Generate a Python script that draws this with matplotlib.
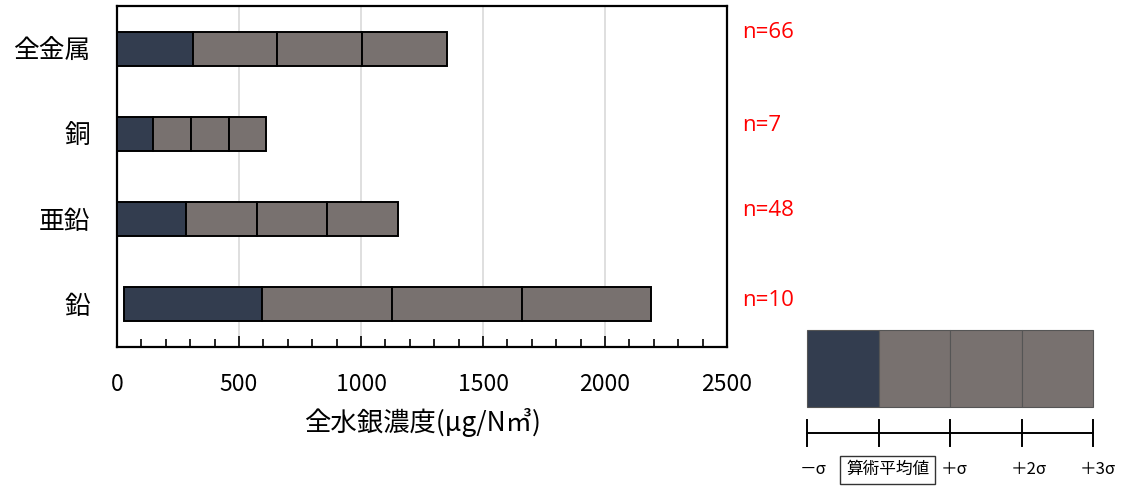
import matplotlib
matplotlib.use('Agg')
import matplotlib.pyplot as plt
from matplotlib.ticker import MultipleLocator
from matplotlib.patches import Rectangle

plt.rcParams['font.family'] = ['Noto Sans CJK JP', 'DejaVu Sans']

# data (µg/Nm3)
categories = ['全金属', '銅', '亜鉛', '鉛']
counts = ['n=66', 'n=7', 'n=48', 'n=10']
minus_sd = [0, 0, 0, 28]          # -σ (clipped at 0)
mean_val = [311, 148, 283, 594]   # 算術平均値
plus_1sd = [657, 302, 572, 1125]
plus_2sd = [1005, 458, 860, 1658]
plus_3sd = [1353, 609, 1150, 2188]

# legend schematic, in σ units
legend_edges = [-1, 0, 1, 2, 3]
legend_labels = ['－σ', '算術平均値', '＋σ', '＋2σ', '＋3σ']

DARK = '#333d4f'
GREY = '#78716f'

W, H = 1123, 490
fig = plt.figure(figsize=(W / 100, H / 100), dpi=100)
ax = fig.add_axes([117 / W, 1 - 347 / H, 610 / W, 341 / H])

ypos = list(range(len(categories)))
segments = [(minus_sd, mean_val, DARK), (mean_val, plus_1sd, GREY),
            (plus_1sd, plus_2sd, GREY), (plus_2sd, plus_3sd, GREY)]
for lo, hi, col in segments:
    widths = [h - l for l, h in zip(lo, hi)]
    ax.barh(ypos, widths, left=lo, height=0.4, color=col,
            edgecolor='black', linewidth=1.4, zorder=3)

ax.set_ylim(len(categories) - 0.5, -0.5)
ax.set_xlim(0, 2500)
ax.set_yticks(ypos)
ax.set_yticklabels(categories, fontsize=18.5)
ax.tick_params(axis='y', length=0, pad=19)

ax.xaxis.set_major_locator(MultipleLocator(500))
ax.xaxis.set_minor_locator(MultipleLocator(100))
ax.tick_params(axis='x', which='major', direction='in', length=8, width=1.2,
               labelsize=16.5, pad=19)
ax.tick_params(axis='x', which='minor', direction='in', length=6, width=1.2)
ax.grid(axis='x', which='major', color='#d9d9d9', linewidth=1.2, zorder=0)
ax.set_xlabel('全水銀濃度(μg/N㎥)', fontsize=19, labelpad=8)
for s in ax.spines.values():
    s.set_linewidth(1.6)
    s.set_color('black')

# n labels sit a little above each bar's centre
n_shift = [-0.19, -0.1, -0.1, -0.05]
for y, n, d in zip(ypos, counts, n_shift):
    ax.text(1.025, y + d, n, color='red', fontsize=16, va='center', ha='left',
            transform=ax.get_yaxis_transform(), family=['Open Sans', 'DejaVu Sans'])

# legend schematic at bottom right
lax = fig.add_axes([807 / W, 0, 286 / W, 170 / H])
lax.set_xlim(legend_edges[0], legend_edges[-1])
lax.set_ylim(0, 1)
lax.axis('off')
for i in range(len(legend_edges) - 1):
    col = DARK if i == 0 else GREY
    lax.add_patch(Rectangle((legend_edges[i], 0.488), legend_edges[i + 1] - legend_edges[i],
                            0.453, facecolor=col, edgecolor='#555555', linewidth=0.8,
                            clip_on=False))
lax.plot([legend_edges[0], legend_edges[-1]], [0.335, 0.335], color='black',
         linewidth=1.4, clip_on=False)
for e in legend_edges:
    lax.plot([e, e], [0.26, 0.41], color='black', linewidth=1.4, clip_on=False)

label_x = [-0.92, 0.13, 1.06, 2.1, 3.07]
for x, lab in zip(label_x, legend_labels):
    kw = {'fontsize': 12}
    if lab == '算術平均値':
        kw = {'fontsize': 12,
              'bbox': dict(boxstyle='square,pad=0.35', facecolor='white',
                           edgecolor='#333333', linewidth=1.0)}
    lax.text(x, 0.118, lab, ha='center', va='center', clip_on=False, **kw)

fig.savefig('out.png', dpi=100)
